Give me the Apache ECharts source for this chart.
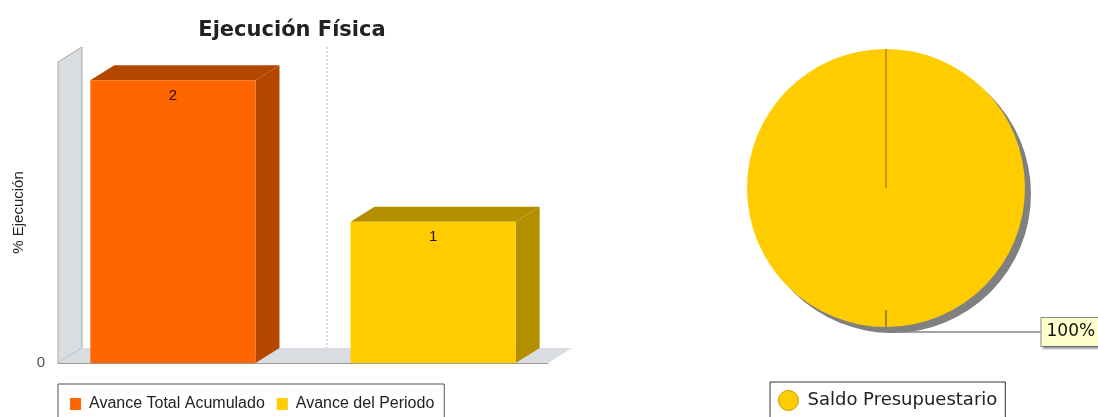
<!DOCTYPE html>
<html>
<head>
<meta charset="utf-8">
<script src="https://cdn.jsdelivr.net/npm/echarts@6/dist/echarts.min.js"></script>
<style>
  html, body { margin: 0; padding: 0; background: #ffffff; }
  #chart { width: 1098px; height: 417px; }
</style>
</head>
<body>
<div id="chart"></div>
<script>
// ---- data ----
const categories = [''];
const seriesNames = ['Avance Total Acumulado', 'Avance del Periodo'];
const avanceTotalAcumulado = [2];
const avanceDelPeriodo = [1];
const yTickLabels = ['0'];
const chartTitle = 'Ejecución Física';
const yAxisTitle = '% Ejecución';
const pieNames = ['Saldo Presupuestario'];
const pieValues = [100];

// ---- styles / layout ----
const barValues = [avanceTotalAcumulado, avanceDelPeriodo];
const barColors = ['#FF6600', '#FFCC00'];
const barDark = ['#B34700', '#B38F00'];
const DX = 24, DY = 15;
const PIE_CX = 886, PIE_CY = 188, PIE_R = 139;

function makeBarRenderer(k) {
  return function (params, api) {
    const base = api.coord([api.value(0), 0]);
    const top = api.coord([api.value(0), api.value(1)]);
    const band = api.size([1, 0])[0];
    const barW = band * 0.337;
    const gap = band * 0.194;
    const x0 = k === 0 ? base[0] - gap / 2 - barW : base[0] + gap / 2;
    const yt = top[1], yb = base[1];
    return {
      type: 'group',
      children: [
        { type: 'polygon', shape: { points: [[x0 + barW, yt], [x0 + barW + DX, yt - DY], [x0 + barW + DX, yb - DY], [x0 + barW, yb]] },
          style: { fill: barDark[k] } },
        { type: 'polygon', shape: { points: [[x0, yt], [x0 + DX, yt - DY], [x0 + barW + DX, yt - DY], [x0 + barW, yt]] },
          style: { fill: barDark[k] } },
        { type: 'rect', shape: { x: x0, y: yt, width: barW, height: yb - yt },
          style: { fill: barColors[k] } },
        { type: 'text', style: { text: String(api.value(1)), x: x0 + barW / 2, y: yt + 8,
          align: 'center', verticalAlign: 'top', fill: '#2a1200',
          font: '15px "Liberation Sans"' } }
      ]
    };
  };
}

function renderDecor(params, api) {
  const cs = params.coordSys;
  const x = cs.x, y = cs.y, w = cs.width, h = cs.height;
  return {
    type: 'group',
    children: [
      { type: 'polygon', shape: { points: [[x, y + h], [x, y], [x + DX, y - DY], [x + DX, y + h - DY]] },
        style: { fill: '#D9DCE1', stroke: '#A8A8A8', lineWidth: 1 } },
      { type: 'polygon', shape: { points: [[x, y + h], [x + DX, y + h - DY], [x + w + DX, y + h - DY], [x + w, y + h]] },
        style: { fill: '#D9DCE1' } },
      { type: 'line', shape: { x1: x + w / 2 + DX, y1: y - DY, x2: x + w / 2 + DX, y2: y + h - DY },
        style: { stroke: '#BBBBBB', lineWidth: 1, lineDash: [2, 2] } }
    ]
  };
}

const barSeries = seriesNames.map((name, k) => ({
  type: 'custom',
  name: name,
  renderItem: makeBarRenderer(k),
  itemStyle: { color: barColors[k] },
  encode: { x: 0, y: 1 },
  data: categories.map((c, j) => [j, barValues[k][j]]),
  z: 3,
  silent: true
}));

const chart = echarts.init(document.getElementById('chart'), null, { renderer: 'canvas' });
chart.setOption({
  backgroundColor: '#ffffff',
  animation: false,
  title: {
    text: chartTitle,
    left: 287,
    textAlign: 'center',
    top: 15,
    textStyle: { fontFamily: 'DejaVu Sans', fontWeight: 'bold', fontSize: 21, color: '#222' }
  },
  grid: { left: 58, top: 62, width: 490, height: 301 },
  xAxis: {
    type: 'category',
    data: categories,
    axisLine: { show: true, lineStyle: { color: '#9a9a9a' } },
    axisTick: { show: false },
    axisLabel: { show: false },
    splitLine: { show: false }
  },
  yAxis: {
    type: 'value',
    min: 0,
    max: 2.13,
    interval: 2.13,
    name: yAxisTitle,
    nameLocation: 'middle',
    nameRotate: 90,
    nameGap: 32,
    nameTextStyle: { fontFamily: 'Liberation Sans', fontSize: 15, color: '#222' },
    axisLine: { show: true, lineStyle: { color: '#888' } },
    axisTick: { show: false },
    axisLabel: {
      formatter: (v, i) => (yTickLabels[i] !== undefined ? yTickLabels[i] : ''),
      margin: 13,
      fontFamily: 'Liberation Sans', fontSize: 15, color: '#555'
    },
    splitLine: { show: false }
  },
  legend: [
    {
      data: seriesNames,
      left: 58, top: 384,
      orient: 'horizontal',
      icon: 'rect',
      itemWidth: 11, itemHeight: 12, itemGap: 12,
      padding: [12, 10, 12, 12],
      borderColor: '#555', borderWidth: 1,
      selectedMode: false,
      textStyle: { fontFamily: 'Liberation Sans', fontSize: 16, color: '#222', padding: [0, 0, 0, 3] }
    },
    {
      data: pieNames,
      left: 770, top: 382,
      icon: 'circle',
      itemWidth: 20, itemHeight: 20,
      padding: [8, 8, 8, 8],
      borderColor: '#333', borderWidth: 1,
      selectedMode: false,
      itemStyle: { borderColor: '#C89B00', borderWidth: 1 },
      textStyle: { fontFamily: 'DejaVu Sans', fontSize: 18, color: '#222', padding: [0, 0, 0, 4] }
    }
  ],
  graphic: [
    { type: 'line', z: 100, silent: true,
      shape: { x1: PIE_CX, y1: PIE_CY - PIE_R, x2: PIE_CX, y2: PIE_CY },
      style: { stroke: '#8B6914', lineWidth: 1 } },
    { type: 'line', z: 100, silent: true,
      shape: { x1: PIE_CX, y1: PIE_CY + PIE_R - 17, x2: PIE_CX, y2: PIE_CY + PIE_R },
      style: { stroke: '#444', lineWidth: 1 } }
  ],
  series: [
    {
      type: 'custom',
      name: '_decor',
      renderItem: renderDecor,
      data: [[0, 0]],
      encode: { x: 0, y: 1 },
      z: 1,
      silent: true
    }
  ].concat(barSeries).concat([
    {
      type: 'pie',
      name: 'pie',
      left: 0, top: 0, width: 1600, height: 417,
      center: [PIE_CX, PIE_CY],
      radius: PIE_R,
      startAngle: 90.2,
      clockwise: true,
      silent: true,
      emphasis: { disabled: true },
      itemStyle: {
        color: '#FFCC00',
        borderWidth: 0,
        shadowColor: '#808080', shadowOffsetX: 6, shadowOffsetY: 6, shadowBlur: 0
      },
      label: {
        show: true,
        position: 'outside',
        formatter: p => p.percent + '%',
        overflow: 'none',
        fontFamily: 'DejaVu Sans', fontSize: 17, color: '#111',
        backgroundColor: '#FFFFCC',
        borderColor: '#888', borderWidth: 1,
        padding: [6, 5, 5, 5],
        shadowColor: 'rgba(0,0,0,0.3)', shadowOffsetX: 2, shadowOffsetY: 2, shadowBlur: 2
      },
      labelLine: { show: true, length: 5, length2: 150, lineStyle: { color: '#444', width: 1 } },
      labelLayout: function (params) {
        const pts = params.labelLinePoints;
        if (!pts) return {};
        return {
          labelLinePoints: [pts[0], pts[1], [params.labelRect.x, pts[2][1]]]
        };
      },
      data: pieNames.map((n, i) => ({ name: n, value: pieValues[i] }))
    }
  ])
});
</script>
</body>
</html>
